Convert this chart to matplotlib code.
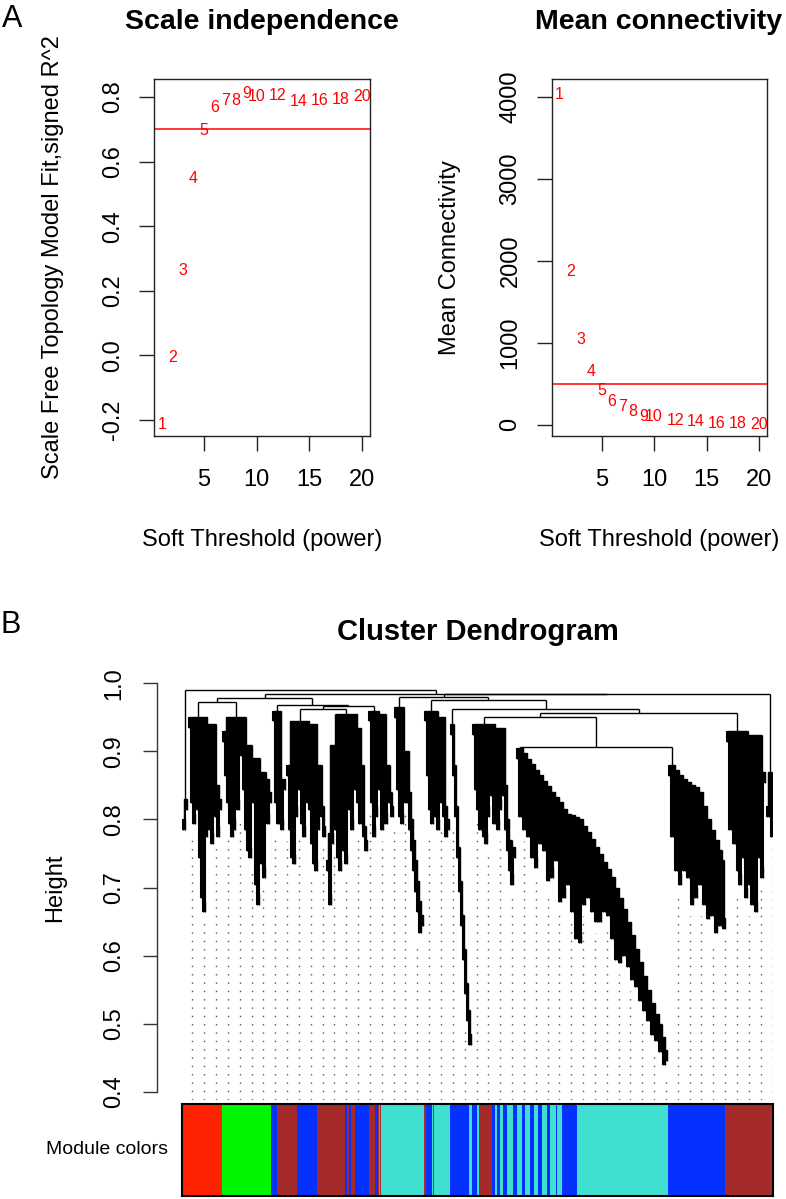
import numpy as np
import matplotlib.pyplot as plt
from matplotlib.collections import LineCollection

plt.rcParams['font.family'] = ['Liberation Sans', 'DejaVu Sans']

# ---------------- Panel A : soft threshold scan ----------------
powers = [1, 2, 3, 4, 5, 6, 7, 8, 9, 10, 12, 14, 16, 18, 20]
sft_r2 = [-0.215, -0.005, 0.262, 0.547, 0.698, 0.767, 0.788, 0.790, 0.812,
          0.801, 0.804, 0.785, 0.789, 0.793, 0.803]
mean_k = [4033, 1874, 1045, 646, 423, 281, 220, 167, 106, 98, 57, 37, 20, 15, 5]
r2_cut = 0.7
k_cut = 500

# ---------------- Panel B : dendrogram ----------------
# merge heights between neighbouring leaves, read branch by branch (left -> right)
br01 = [0.80, 0.83]
br02 = [0.95, 0.84, 0.81, 0.83, 0.87, 0.76, 0.70, 0.68, 0.79, 0.94, 0.80, 0.78,
        0.82, 0.85, 0.79, 0.83]
br03 = [0.93, 0.88, 0.84, 0.81, 0.79, 0.80, 0.86, 0.83, 0.95, 0.91, 0.86, 0.80,
        0.77, 0.76, 0.89, 0.84, 0.72, 0.69, 0.87, 0.75, 0.73, 0.86, 0.81, 0.84]
br04 = [0.96, 0.84, 0.81, 0.83, 0.80, 0.86]
br05 = [0.88, 0.80, 0.76, 0.75, 0.82, 0.945, 0.86, 0.81, 0.79, 0.84, 0.94, 0.83,
        0.78, 0.75, 0.74, 0.80, 0.88, 0.82, 0.79]
br06 = [0.74, 0.69, 0.78, 0.91, 0.80, 0.76, 0.74, 0.82, 0.77, 0.75]
br07 = [0.83, 0.80, 0.86, 0.935, 0.84, 0.81, 0.88, 0.79, 0.77]
br08 = [0.96, 0.84, 0.79, 0.82, 0.955, 0.86, 0.80, 0.83, 0.81, 0.88, 0.84, 0.82]
br09 = [0.965, 0.86, 0.82, 0.81, 0.84, 0.90, 0.84, 0.80, 0.77, 0.74, 0.71, 0.68,
        0.65, 0.66]
br10 = [0.96, 0.88, 0.83, 0.81, 0.86, 0.82, 0.80, 0.84, 0.95, 0.82, 0.79, 0.80]
br11 = [0.94, 0.88, 0.82, 0.76, 0.71, 0.66, 0.61, 0.56, 0.52, 0.485]
br12 = [0.94, 0.86, 0.83, 0.80, 0.84, 0.79, 0.78, 0.82, 0.88, 0.85, 0.81, 0.84,
        0.80, 0.83, 0.935, 0.85, 0.80, 0.77, 0.74, 0.72, 0.76]
# turquoise module: descending chain, alternating chain step / small pair below
br13 = [0.905, 0.82, 0.897, 0.80, 0.889, 0.79, 0.881, 0.76, 0.873, 0.745,
        0.865, 0.78, 0.857, 0.77, 0.849, 0.725, 0.841, 0.73, 0.833, 0.755,
        0.825, 0.695, 0.815, 0.70, 0.808, 0.72, 0.806, 0.68, 0.803, 0.64,
        0.80, 0.635, 0.79, 0.69, 0.781, 0.70, 0.772, 0.68, 0.76, 0.665,
        0.75, 0.665, 0.738, 0.68, 0.727, 0.675, 0.715, 0.64, 0.70, 0.61,
        0.685, 0.605, 0.668, 0.615, 0.65, 0.60, 0.63, 0.58, 0.61, 0.57,
        0.59, 0.55, 0.57, 0.535, 0.55, 0.52, 0.53, 0.50, 0.515, 0.49,
        0.50, 0.475, 0.48, 0.455, 0.462]
# blue module
br14 = [0.88, 0.79, 0.872, 0.74, 0.866, 0.72, 0.86, 0.74, 0.855, 0.73,
        0.85, 0.69, 0.848, 0.70, 0.84, 0.72, 0.82, 0.69, 0.80, 0.67,
        0.785, 0.675, 0.77, 0.65, 0.755, 0.66, 0.74, 0.655]
# brown module
br15 = [0.93, 0.80, 0.90, 0.78, 0.875, 0.74, 0.72, 0.87, 0.76, 0.70,
        0.865, 0.72, 0.69, 0.86, 0.68, 0.924, 0.76, 0.73, 0.87]
br16 = [0.82, 0.87, 0.79]
joins = [0.99, 0.972, 0.978, 0.968, 0.962, 0.955, 0.966, 0.985, 0.98, 0.975,
         0.962, 0.95, 0.907, 0.956, 0.984]

# module colour bar: run boundaries (leaf units) and colours
bar_breaks = [-0.4, 19.9, 44.1, 47.1, 57.1, 67.4, 81.25, 82.25, 83.25, 84.25,
              86.25, 93.25, 96.25, 97.5, 98.25, 98.75, 99.25, 120.9, 121.75,
              124.6, 125.2, 125.75, 133.75, 143.4, 144.6, 147.4, 148.4, 154.9,
              156.25, 157.4, 158.75, 160.4, 162.1, 165.4, 167.4, 169.9, 171.25,
              173.75, 175.75, 177.9, 179.6, 182.1, 183.75, 186.6, 187.1, 189.6,
              197.1, 242.6, 271.25, 295.4]
bar_colors = ['red', 'green', 'blue', 'brown', 'blue', 'brown', 'blue', 'brown',
              'blue', 'brown', 'blue', 'brown', 'blue', 'brown', 'green', 'brown',
              'turquoise', 'brown', 'blue', 'turquoise', 'brown', 'turquoise',
              'blue', 'turquoise', 'blue', 'turquoise', 'brown', 'blue',
              'turquoise', 'blue', 'turquoise', 'blue', 'turquoise', 'blue',
              'turquoise', 'blue', 'turquoise', 'blue', 'turquoise', 'blue',
              'turquoise', 'blue', 'turquoise', 'blue', 'turquoise', 'blue',
              'turquoise', 'blue', 'brown']
module_rgb = {'red': '#ff2200', 'green': '#00f500', 'blue': '#0531ff',
              'brown': '#a52a2a', 'turquoise': '#40e0d0'}

W, H = 786, 1199
fig = plt.figure(figsize=(W / 100, H / 100), dpi=100)


def fx(px):
    return px / W


def fy(py):
    return 1 - py / H


def panel_axes(x0, y0, x1, y1):
    return fig.add_axes([fx(x0), fy(y1), (x1 - x0) / W, (y1 - y0) / H])


tick_fs = 17

# scale independence
ax1 = panel_axes(154, 79, 370, 436)
for p, v in zip(powers, sft_r2):
    ax1.text(p, v, str(p), color='red', ha='center', va='center', fontsize=11.5)
ax1.axhline(r2_cut, color='red', lw=1.1)
ax1.set_xlim(0.24, 20.76)
ax1.set_ylim(-0.2495, 0.856)
ax1.set_xticks([5, 10, 15, 20])
ax1.set_yticks([-0.2, 0.0, 0.2, 0.4, 0.6, 0.8])
ax1.set_yticklabels(['-0.2', '0.0', '0.2', '0.4', '0.6', '0.8'])

# mean connectivity
ax2 = panel_axes(551.7, 79, 767, 435.7)
for p, v in zip(powers, mean_k):
    ax2.text(p, v, str(p), color='red', ha='center', va='center', fontsize=11.5)
ax2.axhline(k_cut, color='red', lw=1.1)
ax2.set_xlim(0.24, 20.76)
ax2.set_ylim(-134, 4216)
ax2.set_xticks([5, 10, 15, 20])
ax2.set_yticks([0, 1000, 2000, 3000, 4000])

for ax in (ax1, ax2):
    for s in ax.spines.values():
        s.set_linewidth(1.0)
        s.set_color('#222222')
    ax.tick_params(axis='both', direction='out', length=10.8, width=1.0,
                   labelsize=tick_fs, color='#222222')
    ax.tick_params(axis='x', pad=13)
    ax.tick_params(axis='y', pad=11, labelrotation=90)
    for lab in ax.get_yticklabels():
        lab.set_va('center')

fig.text(fx(262), fy(21.7), 'Scale independence', ha='center', va='center',
         fontsize=20.5, fontweight='bold')
fig.text(fx(659), fy(21.7), 'Mean connectivity', ha='center', va='center',
         fontsize=20.5, fontweight='bold')
fig.text(fx(53), fy(257.5), 'Scale Free Topology Model Fit,signed R^2',
         rotation=90, ha='center', va='center', fontsize=tick_fs)
fig.text(fx(450), fy(257.5), 'Mean Connectivity', rotation=90, ha='center',
         va='center', fontsize=tick_fs)
fig.text(fx(262), fy(540), 'Soft Threshold (power)', ha='center', va='center',
         fontsize=tick_fs)
fig.text(fx(659), fy(540), 'Soft Threshold (power)', ha='center', va='center',
         fontsize=tick_fs)
fig.text(fx(12.5), fy(19), 'A', ha='center', va='center', fontsize=22)
fig.text(fx(10.5), fy(625), 'B', ha='center', va='center', fontsize=22)

# ---- dendrogram ----
blocks = [br01, br02, br03, br04, br05, br06, br07, br08, br09, br10, br11, br12,
          br13, br14, br15, br16]
gaps = []
for i, b in enumerate(blocks):
    gaps.extend(b)
    if i < len(joins):
        gaps.append(joins[i])
gaps = np.array(gaps)
n_leaf = len(gaps) + 1
hang = 0.03 * (gaps.max() - gaps.min())
mass_span = 15         # merges narrower than this (in leaves) are drawn as dense mass
leaf_h = np.zeros(n_leaf)
segs = []
narrow = []


def draw_node(lo, hi):
    if lo == hi:
        return float(lo), None
    k = lo + int(np.argmax(gaps[lo:hi]))
    h = gaps[k]
    xl, hl = draw_node(lo, k)
    xr, hr = draw_node(k + 1, hi)
    for x, hc, leaf in ((xl, hl, lo), (xr, hr, hi)):
        if hc is None:
            leaf_h[leaf] = h
            hc = h - hang
        segs.append([(x, hc), (x, h)])
    segs.append([(xl, h), (xr, h)])
    if xr - xl <= mass_span:
        narrow.append((xl, xr, h))
    return (xl + xr) / 2, h


draw_node(0, n_leaf - 1)

# every leaf column is dark from its tip up to the highest narrow merge over it
leaf_bot = leaf_h - hang
mass_top = leaf_h.copy()
for xl, xr, h in narrow:
    i0, i1 = int(np.ceil(xl)), int(np.floor(xr))
    mass_top[i0:i1 + 1] = np.maximum(mass_top[i0:i1 + 1], h)

ylo, yhi = 0.388, 1.0122
ax3 = panel_axes(181.7, 675, 773.3, 1100)
guide_n = 50
obj_h = leaf_h - 0.05 * (yhi - ylo)
for g in range(1, guide_n + 1):
    p = g * n_leaf / guide_n
    top = min(obj_h[int(np.floor(p)) - 1], obj_h[int(np.ceil(p)) - 1])
    ax3.plot([p - 1, p - 1], [ylo, top], color='#555555', lw=1.0,
             ls=(0, (1, 5)))
ax3.vlines(np.arange(n_leaf), leaf_bot, mass_top, color='black', lw=1.5)
ax3.add_collection(LineCollection(segs, colors='black', linewidths=1.0))
ax3.set_xlim(-0.4, n_leaf - 0.6)
ax3.set_ylim(ylo, yhi)
for side in ('top', 'right', 'bottom'):
    ax3.spines[side].set_visible(False)
ax3.spines['left'].set_bounds(0.4, 1.0)
ax3.spines['left'].set_position(('outward', 17.8))
ax3.spines['left'].set_linewidth(1.0)
ax3.spines['left'].set_color('#333333')
ax3.set_xticks([])
ax3.set_yticks([0.4, 0.5, 0.6, 0.7, 0.8, 0.9, 1.0])
ax3.set_yticklabels(['0.4', '0.5', '0.6', '0.7', '0.8', '0.9', '1.0'])
ax3.tick_params(axis='y', direction='out', length=10, width=1.0, pad=13,
                labelsize=tick_fs, labelrotation=90, color='#333333')
for lab in ax3.get_yticklabels():
    lab.set_va('center')

fig.text(fx(477.5), fy(632), 'Cluster Dendrogram', ha='center', va='center',
         fontsize=21, fontweight='bold')
fig.text(fx(55), fy(888), 'Height', rotation=90, ha='center', va='center',
         fontsize=tick_fs)

# ---- module colour bar ----
ax4 = panel_axes(181.7, 1104, 773.3, 1195.5)
lefts = bar_breaks[:-1]
widths = np.diff(bar_breaks)
ax4.bar(lefts, 1, width=widths, align='edge',
        color=[module_rgb[c] for c in bar_colors], linewidth=0)
ax4.set_xlim(-0.4, n_leaf - 0.6)
ax4.set_ylim(0, 1)
ax4.set_xticks([])
ax4.set_yticks([])
for s in ax4.spines.values():
    s.set_linewidth(1.5)
fig.text(fx(168), fy(1150), 'Module colors', ha='right', va='center',
         fontsize=14)

fig.savefig('out.png', dpi=100)
